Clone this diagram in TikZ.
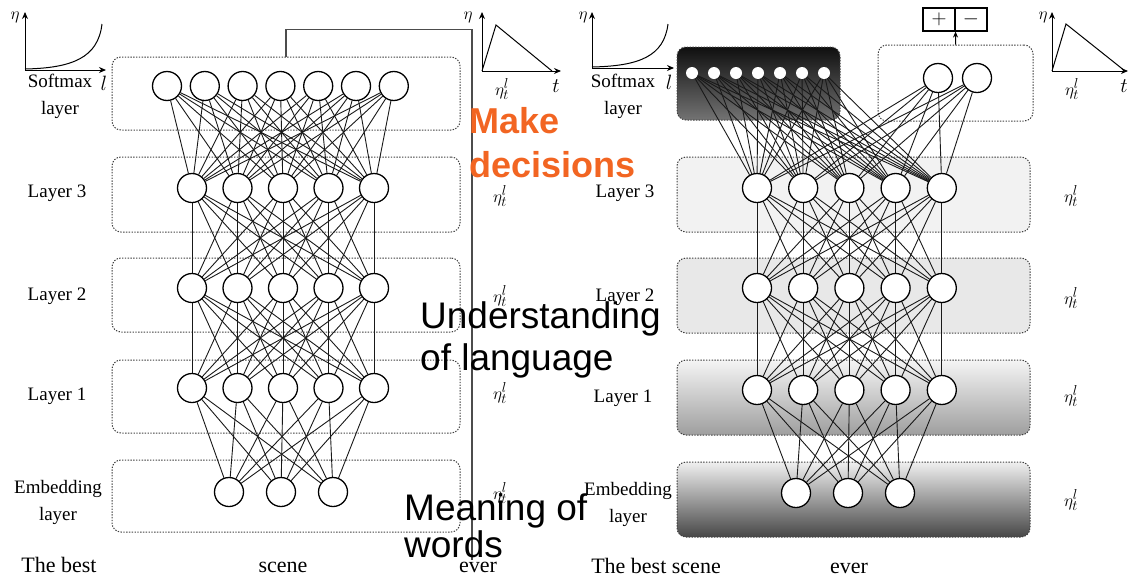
\documentclass[tikz,border=0pt]{standalone}
\usepackage{fontspec}
\setmainfont{Liberation Serif}
\newfontfamily\sansfont{Liberation Sans}
\usetikzlibrary{arrows.meta}
\definecolor{accent}{RGB}{242,101,34}
\begin{document}
\begin{tikzpicture}[x=1pt,y=-1pt,
  neuron/.style={circle, draw=black, line width=1.3pt, fill=white, minimum size=29pt, inner sep=0pt},
  whitedot/.style={circle, fill=white, minimum size=12pt, inner sep=0pt},
  layerbox/.style={draw=black!75, line width=1pt, dash pattern=on 1.4pt off 1.4pt, rounded corners=9pt, inner sep=0pt},
  link/.style={line width=0.9pt, draw=black!90},
  lbl/.style={font=\fontsize{19}{27}\selectfont, inner sep=0pt, align=center},
  rate/.style={font=\fontsize{19}{22}\selectfont, inner sep=0pt},
  word/.style={font=\fontsize{22}{26}\selectfont, anchor=base, inner sep=0pt},
  axisarrow/.style={line width=1pt, -{Stealth[length=7pt,width=6pt]}},
  plotline/.style={line width=1pt},
  axlbl/.style={font=\fontsize{22}{24}\selectfont, inner sep=0pt},
  note/.style={font=\sansfont\fontsize{37}{42}\selectfont, anchor=base west, inner sep=0pt},
  decide/.style={font=\sansfont\bfseries\fontsize{36}{42}\selectfont, anchor=base west, inner sep=0pt, text=accent},
  bus/.style={draw=black!70, line width=1.4pt},
  signbox/.style={draw=black, line width=1.1pt, minimum width=32pt, minimum height=23pt, inner sep=0pt, font=\fontsize{20}{22}\selectfont}
]
\useasboundingbox (0,0) rectangle (1128,579);

% ---------- learning-rate insets ----------
% left network: softmax schedule
\draw[axisarrow] (25,70) -- (106,70);
\draw[axisarrow] (25,70) -- (25,12);
\draw[plotline] (25,69) .. controls (72,68) and (98,58) .. (102,24);
\node[rate] (Lg1eta) at (15,17) {$\eta$};
\node[axlbl] (Lg1l) at (104,83) {$l$};
% left network: per-layer schedule
\draw[axisarrow] (482,71) -- (561,71);
\draw[axisarrow] (482,71) -- (482,12);
\draw[plotline] (482,71) -- (496,25) -- (552,71);
\node[rate] (Lg2eta) at (468,17) {$\eta$};
\node[axlbl] (Lg2t) at (556,86) {$t$};
\node[rate] (Lg2r) at (502,89) {$\eta_t^l$};
% right network: softmax schedule
\draw[axisarrow] (592,68) -- (674,68);
\draw[axisarrow] (592,68) -- (592,12);
\draw[plotline] (592,67) .. controls (640,66) and (664,56) .. (668,24);
\node[rate] (Rg1eta) at (583,17) {$\eta$};
\node[axlbl] (Rg1l) at (669,82) {$l$};
% right network: per-layer schedule
\draw[axisarrow] (1052,71) -- (1128,71);
\draw[axisarrow] (1052,71) -- (1052,12);
\draw[plotline] (1052,71) -- (1066,24) -- (1125,71);
\node[rate] (Rg2eta) at (1043,17) {$\eta$};
\node[axlbl] (Rg2t) at (1124,86) {$t$};
\node[rate] (Rg2r) at (1072,89) {$\eta_t^l$};

% ---------- left network ----------
\node[layerbox, minimum width=348pt, minimum height=73pt] (Lsm) at (286,93.5) {};
\node[layerbox, minimum width=348pt, minimum height=75pt] (L3box) at (286,194.5) {};
\node[layerbox, minimum width=348pt, minimum height=74pt] (L2box) at (286,295) {};
\node[layerbox, minimum width=348pt, minimum height=73pt] (L1box) at (286,396.5) {};
\node[layerbox, minimum width=348pt, minimum height=72pt] (Lebox) at (286,496) {};

\foreach \i in {1,...,7} \node[neuron] (L-s-\i) at ({167+37.8*(\i-1)},86) {};
\foreach \i in {1,...,5} {
  \node[neuron] (L-3-\i) at ({192+45.5*(\i-1)},188) {};
  \node[neuron] (L-2-\i) at ({192+45.5*(\i-1)},288) {};
  \node[neuron] (L-1-\i) at ({192+45.5*(\i-1)},388) {};
}
\foreach \i in {1,...,3} \node[neuron] (L-e-\i) at ({229+52*(\i-1)},492) {};

\foreach \j in {1,...,5} {
  \foreach \i in {1,...,7} \draw[link] (L-s-\i) -- (L-3-\j);
  \foreach \i in {1,...,5} {
    \draw[link] (L-3-\i) -- (L-2-\j);
    \draw[link] (L-2-\i) -- (L-1-\j);
  }
  \foreach \i in {1,...,3} \draw[link] (L-1-\j) -- (L-e-\i);
}

\node[lbl] (Lsmname) at (60,96) {Softmax\\layer};
\node[lbl] (L3name) at (57,193) {Layer 3};
\node[lbl] (L2name) at (57,296) {Layer 2};
\node[lbl] (L1name) at (57,396) {Layer 1};
\node[lbl] (Lename) at (58,502) {Embedding\\layer};
\node[rate] (L3rate) at (500,196) {$\eta_t^l$};
\node[rate] (L2rate) at (500,296) {$\eta_t^l$};
\node[rate] (L1rate) at (500,393) {$\eta_t^l$};
\node[rate] (Lerate) at (500,493) {$\eta_t^l$};

\node[word] (Lw1) at (59,572) {The best};
\node[word] (Lw2) at (283,572) {scene};
\node[word] (Lw3) at (478,572) {ever};

% ---------- right network ----------
\node[layerbox, minimum width=163pt, minimum height=73pt, top color=black!94, bottom color=black!55] (Rsm) at (758.5,83.5) {};
\node[layerbox, minimum width=155pt, minimum height=76pt] (Rout) at (955.5,83) {};
\node[layerbox, minimum width=353pt, minimum height=75pt, fill=black!5] (R3box) at (853.5,194.5) {};
\node[layerbox, minimum width=353pt, minimum height=75pt, fill=black!9] (R2box) at (853.5,295.5) {};
\node[layerbox, minimum width=353pt, minimum height=75pt, top color=black!4, bottom color=black!38] (R1box) at (853.5,397.5) {};
\node[layerbox, minimum width=353pt, minimum height=75pt, top color=black!6, bottom color=black!72] (Rebox) at (853.5,499.5) {};

\foreach \i in {1,...,7} \node[whitedot] (R-s-\i) at ({692+22*(\i-1)},73) {};
\node[neuron] (R-o-1) at (938,78) {};
\node[neuron] (R-o-2) at (977,78) {};
\foreach \i in {1,...,5} {
  \node[neuron] (R-3-\i) at ({757+46.2*(\i-1)},188) {};
  \node[neuron] (R-2-\i) at ({757+46.2*(\i-1)},288) {};
  \node[neuron] (R-1-\i) at ({757+46.2*(\i-1)},390) {};
}
\foreach \i in {1,...,3} \node[neuron] (R-e-\i) at ({796+52*(\i-1)},493) {};

\foreach \j in {1,...,5} {
  \foreach \i in {1,...,7} \draw[link] (R-s-\i) -- (R-3-\j);
  \foreach \i in {1,2} \draw[link] (R-o-\i) -- (R-3-\j);
  \foreach \i in {1,...,5} {
    \draw[link] (R-3-\i) -- (R-2-\j);
    \draw[link] (R-2-\i) -- (R-1-\j);
  }
  \foreach \i in {1,...,3} \draw[link] (R-1-\j) -- (R-e-\i);
}

% binary sentiment output
\node[signbox] (plus) at (939,19.5) {$+$};
\node[signbox] (minus) at (971,19.5) {$-$};
\draw[line width=1pt, -{Stealth[length=6pt,width=5pt]}] (Rout.north) -- (plus.south east);

\node[lbl] (Rsmname) at (623,96) {Softmax\\layer};
\node[lbl] (R3name) at (625,193) {Layer 3};
\node[lbl] (R2name) at (625,297) {Layer 2};
\node[lbl] (R1name) at (623,398) {Layer 1};
\node[lbl] (Rename) at (628,504) {Embedding\\layer};
\node[rate] (R3rate) at (1071,196) {$\eta_t^l$};
\node[rate] (R2rate) at (1071,298) {$\eta_t^l$};
\node[rate] (R1rate) at (1071,396) {$\eta_t^l$};
\node[rate] (Rerate) at (1071,500) {$\eta_t^l$};

\node[word] (Rw1) at (656,573) {The best scene};
\node[word] (Rw2) at (849,573) {ever};

% ---------- softmax output routed down the side ----------
\coordinate (busend) at (472,560);
\draw[bus] (Lsm.north) -- ++(0,-27) -| (busend);

% ---------- annotations ----------
\node[decide] (make1) at (469,133) {Make};
\node[decide] (make2) at (469,177) {decisions};
\node[note] (und1) at (420,328) {Understanding};
\node[note] (und2) at (420,370) {of language};
\node[note] (mean1) at (404,520) {Meaning of};
\node[note] (mean2) at (404,557) {words};
\end{tikzpicture}
\end{document}
